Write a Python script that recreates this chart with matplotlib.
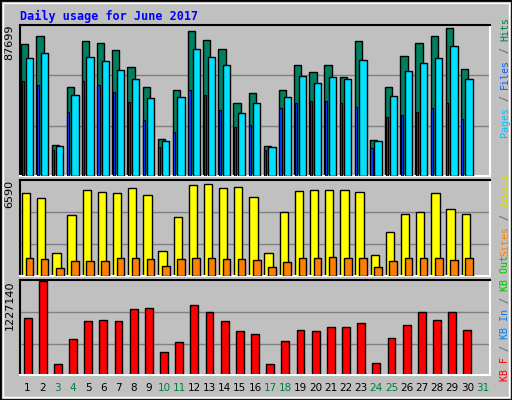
import matplotlib
matplotlib.use("Agg")
import matplotlib.pyplot as plt
from matplotlib.patches import Rectangle

days = list(range(1, 32))
weekend = [3, 4, 10, 11, 17, 18, 24, 25, 31]
hits = [78000, 83000, 18500, 53000, 80000, 78500, 74500, 64500, 53000, 22000, 51000, 86000, 80500, 75000, 43000, 49000, 17500, 51000, 65500, 61500, 65500, 58500, 80000, 21500, 53000, 71000, 78500, 83000, 87699, 63500]
files = [70000, 73000, 17500, 48000, 70500, 68000, 62500, 57500, 46000, 21000, 47000, 75500, 70500, 65500, 37500, 43000, 17000, 47000, 59000, 55000, 58500, 57500, 69000, 20500, 47500, 62000, 67000, 70000, 77000, 57500]
pages = [56000, 54000, 15500, 38000, 56000, 54000, 49500, 44000, 33000, 17000, 26000, 51000, 48000, 39000, 29000, 30000, 15500, 40000, 43000, 44500, 44500, 43000, 41000, 16500, 35000, 36000, 38000, 40000, 43000, 34000]
visits = [5900, 5500, 1650, 4300, 6050, 5950, 5900, 6200, 5700, 1750, 4200, 6400, 6500, 6240, 6300, 5600, 1630, 4530, 6000, 6100, 6050, 6100, 5950, 1450, 3100, 4400, 4550, 5850, 4750, 4400]
sites = [1250, 1200, 600, 1050, 1050, 1050, 1250, 1250, 1200, 700, 1200, 1250, 1250, 1200, 1200, 1150, 640, 1000, 1250, 1250, 1350, 1300, 1250, 650, 1050, 1250, 1300, 1300, 1150, 1250]
kbytes = [740000, 1227140, 150000, 470000, 710000, 720000, 700000, 860000, 870000, 300000, 430000, 910000, 820000, 710000, 580000, 530000, 140000, 440000, 590000, 580000, 630000, 620000, 680000, 160000, 480000, 650000, 820000, 720000, 820000, 590000]

BG = "#C0C0C0"
W, H = 512, 400
fig = plt.figure(figsize=(W / 100, H / 100), dpi=100, facecolor=BG)

def fax(x0, y0, x1, y1):
    return fig.add_axes([x0 / W, 1 - y1 / H, (x1 - x0) / W, (y1 - y0) / H])

fig.patches.append(Rectangle((0, 0), 1, 1, transform=fig.transFigure, fill=False, ec="black", lw=2))
fig.patches.append(Rectangle((3 / W, 3 / H), 1 - 6 / W, 1 - 6 / H, transform=fig.transFigure, fill=False, ec="white", lw=1))

fig.text(20 / W, 1 - 16 / H, "Daily usage for June 2017", color="#0000FF", fontsize=8.5,
         family="DejaVu Sans Mono", weight="bold", va="center", ha="left")

def style(ax, ymax, label):
    ax.set_facecolor(BG)
    ax.set_xlim(0.5, 31.5)
    ax.set_ylim(0, ymax)
    for y in (ymax / 3, 2 * ymax / 3):
        ax.axhline(y, color="#808080", lw=1, zorder=0)
    ax.set_xticks([]); ax.set_yticks([])
    ax.spines["top"].set_color("black"); ax.spines["left"].set_color("black")
    ax.spines["bottom"].set_color("white"); ax.spines["right"].set_color("white")
    for s in ax.spines.values():
        s.set_linewidth(1.5)
    ax.text(-0.012, 1.0, label, transform=ax.transAxes, rotation=90, ha="right", va="top",
            fontsize=8, family="DejaVu Sans")

ax1 = fax(20, 25, 490, 176)
style(ax1, 87699 * 1.02, "87699")
ax1.bar([d - 0.18 for d in days[:30]], hits, width=0.48, color="#008060", ec="black", lw=1, zorder=2)
ax1.bar([d - 0.32 for d in days[:30]], pages, width=0.14, color="#0040FF", ec="black", lw=0.8, zorder=3)
ax1.bar([d + 0.12 for d in days[:30]], files, width=0.48, color="#00E0FF", ec="black", lw=1, zorder=4)

ax2 = fax(20, 180, 490, 276)
style(ax2, 6590 * 1.03, "6590")
ax2.bar([d - 0.1 for d in days[:30]], visits, width=0.55, color="#FFFF00", ec="black", lw=1, zorder=2)
ax2.bar([d + 0.12 for d in days[:30]], sites, width=0.5, color="#FF8000", ec="black", lw=1, zorder=3)

ax3 = fax(20, 280, 490, 375)
style(ax3, 1227140, "1227140")
ax3.set_ylim(0, 1227140 * 1.01)
ax3.bar(days[:30], kbytes, width=0.52, color="#FF0000", ec="black", lw=1, zorder=2)

for d in days:
    x = 20 + (d - 0.5) / 31 * 470
    fig.text(x / W, 1 - 388 / H, str(d), ha="center", va="center", fontsize=7.5,
             color="#008040" if d in weekend else "black", family="DejaVu Sans")

fs = 7.2
adv = 0.602 * fs * 100 / 72
def vlabel(ybottom, parts):
    y = ybottom
    for txt, col in parts:
        fig.text(505 / W, 1 - y / H, txt, rotation=90, color=col, fontsize=fs,
                 family="DejaVu Sans Mono", ha="center", va="bottom")
        y -= adv * len(txt)

vlabel(137, [("Pages", "#00C0FF"), (" / ", "#606060"), ("Files", "#0060FF"), (" / ", "#606060"), ("Hits", "#008040")])
vlabel(256, [("Sites", "#FF8000"), (" / ", "#606060"), ("Visits", "#E0E000")])
vlabel(381, [("KB F", "#FF0000"), (" / ", "#606060"), ("KB In", "#0080FF"), (" / ", "#606060"), ("KB Out", "#00C000")])

fig.savefig("out.png", dpi=100, facecolor=BG)
